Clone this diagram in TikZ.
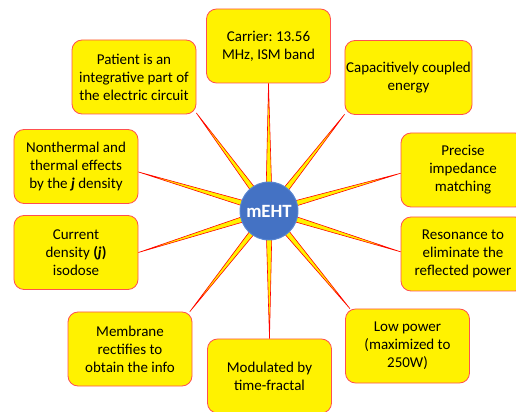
\documentclass[tikz,border=0pt]{standalone}
\usepackage{fontspec}
\setmainfont{Carlito}
\usetikzlibrary{calc}
\usetikzlibrary{backgrounds}
\frenchspacing

\definecolor{hubblue}{RGB}{68,114,196}
\definecolor{hubedge}{RGB}{90,135,210}
\definecolor{boxred}{RGB}{255,80,80}

\begin{document}
\begin{tikzpicture}[x=0.3mm, y=0.3mm,
    idea/.style={draw=boxred, fill=yellow, line width=0.7pt, rounded corners=3mm,
      minimum width=37.2mm, minimum height=22.2mm, inner sep=1pt, align=center,
      font=\fontsize{12.8}{15.4}\selectfont},
    hub/.style={circle, fill=hubblue, draw=hubedge, line width=0.8pt, minimum size=17.4mm,
      inner sep=0pt, text=white, font=\fontsize{16}{18}\selectfont\bfseries},
    spoke/.style={fill=yellow, draw=red, line width=0.5pt, line join=round}]
      \useasboundingbox (0,0) rectangle (516,411);
      \node[hub] (meht) at (269,200) {mEHT};
      \node[idea] (patient) at (134,334) {Patient is an\\integrative part of\\the electric circuit};
      \node[idea] (carrier) at (268.5,365) {Carrier: 13.56\\MHz, ISM band};
      \node[idea] (capac) at (408.5,333.5) {Capacitively coupled\\energy};
      \node[idea] (precise) at (463,241) {Precise\\impedance\\matching};
      \node[idea] (resonance) at (463,157) {Resonance to\\eliminate the\\reflected power};
      \node[idea] (lowpower) at (407.5,65) {Low power\\(maximized to\\250W)};
      \node[idea] (modulated) at (269.5,35) {Modulated by\\time-fractal};
      \node[idea] (membrane) at (130,62) {Membrane\\rectifies to\\obtain the info};
      \node[idea] (current) at (76,158.5) {Current\\density \textbf{(\textit{j})}\\isodose};
      \node[idea] (nonthermal) at (76,244.5) {Nonthermal and\\thermal effects\\by the \textbf{\textit{j}} density};
      % tapered spokes behind the hub
      \begin{pgfonlayer}{background}
      \foreach \b/\a in {patient/-30, carrier/south, capac/210, precise/183, resonance/178,
                         lowpower/147, modulated/north, membrane/32, current/east, nonthermal/-5} {
        \filldraw[spoke] ($(meht.center)!1mm!90:(\b.\a)$) -- (\b.\a)
          -- ($(meht.center)!1mm!-90:(\b.\a)$) -- cycle;
      }
      \end{pgfonlayer}
\end{tikzpicture}
\end{document}
